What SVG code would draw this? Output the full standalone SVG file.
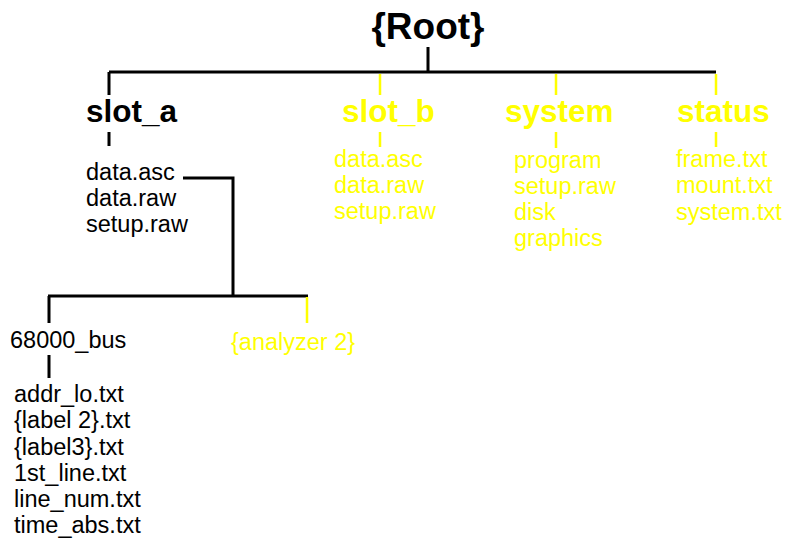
<svg xmlns="http://www.w3.org/2000/svg" width="788" height="538" viewBox="0 0 788 538">
<style>
.t{font-family:"Liberation Sans",Arial,sans-serif;font-size:23.5px}
.b{font-family:"Liberation Sans",Arial,sans-serif;font-weight:bold;font-size:31.5px}
.k{fill:#000}
.y{fill:#ffff00}
.lk{stroke:#000;stroke-width:3;fill:none}
.ly{stroke:#ffff00;stroke-width:2.5;fill:none}
</style>
<rect width="788" height="538" fill="#fff"/>
<g id="connectors">
<path class="lk" d="M428 47V72M109 72H716M109 72V95M109 132V146"/>
<path class="ly" d="M380 74V95M556 74V95M716 74V95M380 132V147M556 132V148M716 132V147"/>
<path class="lk" d="M183 178H233V296M48 296H308M49 296V323M49 355V378"/>
<path class="ly" d="M307 297V323"/>
</g>
<g id="root"><text class="b k" x="428" y="39" text-anchor="middle" style="font-size:37px">{Root}</text></g>
<g id="slot_a">
<text class="b k" x="86" y="122">slot_a</text>
<text class="t k" x="86" y="180">data.asc</text>
<text class="t k" x="86" y="206">data.raw</text>
<text class="t k" x="86" y="232">setup.raw</text>
</g>
<g id="slot_b">
<text class="b y" x="342" y="122">slot_b</text>
<text class="t y" x="334" y="167">data.asc</text>
<text class="t y" x="334" y="193">data.raw</text>
<text class="t y" x="334" y="219">setup.raw</text>
</g>
<g id="system">
<text class="b y" x="505" y="122">system</text>
<text class="t y" x="514" y="168">program</text>
<text class="t y" x="514" y="194">setup.raw</text>
<text class="t y" x="514" y="220">disk</text>
<text class="t y" x="514" y="246">graphics</text>
</g>
<g id="status">
<text class="b y" x="677" y="122">status</text>
<text class="t y" x="676" y="167">frame.txt</text>
<text class="t y" x="676" y="193">mount.txt</text>
<text class="t y" x="676" y="220">system.txt</text>
</g>
<g id="bus68000">
<text class="t k" x="10" y="348">68000_bus</text>
<text class="t k" x="14" y="402">addr_lo.txt</text>
<text class="t k" x="14" y="428">{label 2}.txt</text>
<text class="t k" x="14" y="455">{label3}.txt</text>
<text class="t k" x="14" y="481">1st_line.txt</text>
<text class="t k" x="14" y="507">line_num.txt</text>
<text class="t k" x="14" y="533">time_abs.txt</text>
</g>
<g id="analyzer2"><text class="t y" x="231" y="350">{analyzer 2}</text></g>
</svg>
